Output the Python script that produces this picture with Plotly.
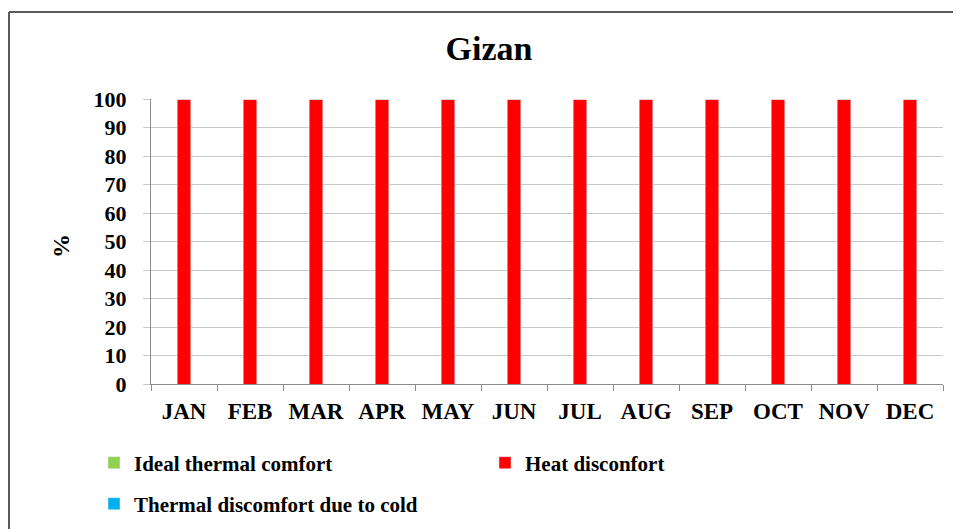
import plotly.graph_objects as go

months = ["JAN", "FEB", "MAR", "APR", "MAY", "JUN", "JUL", "AUG", "SEP", "OCT", "NOV", "DEC"]
ideal = [0, 0, 0, 0, 0, 0, 0, 0, 0, 0, 0, 0]
heat = [100, 100, 100, 100, 100, 100, 100, 100, 100, 100, 100, 100]
cold = [0, 0, 0, 0, 0, 0, 0, 0, 0, 0, 0, 0]
y_ticks = [0, 10, 20, 30, 40, 50, 60, 70, 80, 90, 100]

W, H = 961, 529
OFF = 7  # page offset of the figure in the screenshot
SX0, SX1, SY0, SY1 = 150, 942, 98, 383
L = SX0 - OFF
T = SY0 - OFF
R = W - (SX1 - OFF)
B = H - (SY1 - OFF)
PW, PH = W - L - R, H - T - B

def px(x):
    return (x - OFF - L) / PW

def py(y):
    return (H - B - (y - OFF)) / PH

FONT = "Liberation Serif"

fig = go.Figure()
fig.add_trace(go.Bar(x=months, y=ideal, name="Ideal thermal comfort",
                     marker_color="#92D050", legend="legend", width=0.2))
fig.add_trace(go.Bar(x=months, y=heat, name="Heat disconfort",
                     marker_color="#FF0000", legend="legend", width=0.2))
fig.add_trace(go.Bar(x=months, y=cold, name="Thermal discomfort due to cold",
                     marker_color="#00B0F0", legend="legend2", width=0.2))

border = dict(color="#595959", width=2)
fig.update_layout(
    width=W, height=H,
    margin=dict(l=L, r=R, t=T, b=B),
    barmode="stack",
    plot_bgcolor="white", paper_bgcolor="white",
    font=dict(family=FONT, color="black", size=19, weight="bold"),
    title=dict(text="<b>Gizan</b>", x=(488 - OFF) / W, xanchor="center",
               y=1 - (47 - OFF) / H, yanchor="middle",
               font=dict(family=FONT, size=34, color="black")),
    xaxis=dict(
        showgrid=False, showline=True, linecolor="#8c8c8c", linewidth=1,
        ticks="outside", tickson="boundaries", ticklen=6, tickcolor="#8c8c8c",
        tickfont=dict(family=FONT, size=23, weight="bold"),
        ticklabelstandoff=6,
    ),
    yaxis=dict(
        range=[0, 100], tickvals=y_ticks,
        showgrid=True, gridcolor="#c8c8c8", gridwidth=1,
        showline=True, linecolor="#8c8c8c", linewidth=1,
        ticks="outside", ticklen=7, tickcolor="#c8c8c8",
        tickfont=dict(family=FONT, size=22, weight="bold"),
        ticklabelstandoff=12,
        zeroline=False,
    ),
    annotations=[dict(text="<b>%</b>", xref="paper", yref="paper",
                      x=px(60), y=py(245), xanchor="center", yanchor="middle",
                      textangle=-90, showarrow=False,
                      font=dict(family=FONT, size=24, color="black"))],
    legend=dict(
        orientation="h", x=px(93), xanchor="left", y=py(462), yanchor="middle",
        entrywidth=346, entrywidthmode="pixels", itemwidth=30,
        traceorder="normal",
        font=dict(family=FONT, size=21, weight="bold"),
        bgcolor="rgba(0,0,0,0)",
    ),
    legend2=dict(
        orientation="h", x=px(93), xanchor="left", y=py(503), yanchor="middle",
        itemwidth=30, traceorder="normal",
        font=dict(family=FONT, size=21, weight="bold"),
        bgcolor="rgba(0,0,0,0)",
    ),
    shapes=[
        dict(type="line", xref="paper", yref="paper",
             x0=px(OFF + 1), x1=px(954), y0=py(11), y1=py(11), line=border),
        dict(type="line", xref="paper", yref="paper",
             x0=px(OFF + 1), x1=px(OFF + 1), y0=py(11), y1=py(540), line=border),
        dict(type="line", xref="paper", yref="paper",
             x0=px(954), x1=px(954), y0=py(11), y1=py(540), line=border),
    ],
)

fig.write_html("out.html")
